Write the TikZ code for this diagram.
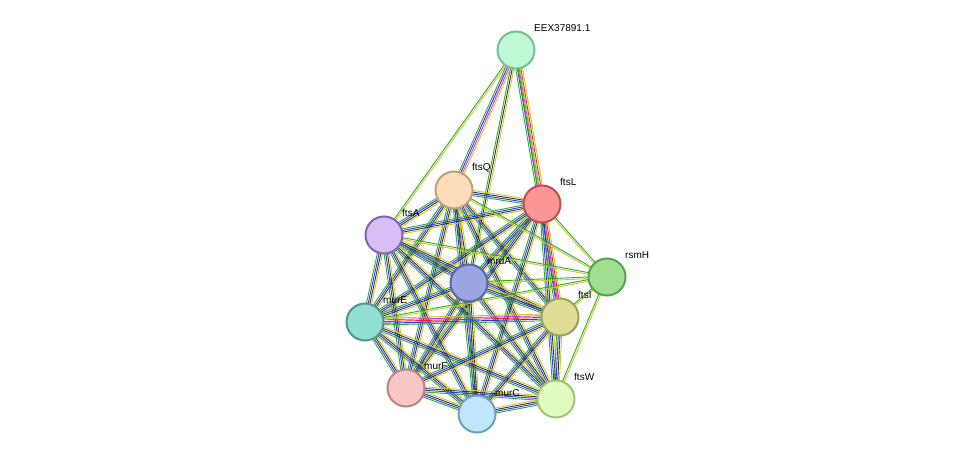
\documentclass[tikz,border=0pt]{standalone}
\usepackage{fontspec}
\setmainfont{Liberation Sans}
\usetikzlibrary{calc,backgrounds}
\definecolor{sg}{HTML}{2EAA2E}
\definecolor{sb}{HTML}{3030EE}
\definecolor{sm}{HTML}{DD33DD}
\definecolor{sr}{HTML}{EE2222}
\definecolor{sy}{HTML}{C8C828}
\definecolor{sk}{HTML}{333333}
\definecolor{sc}{HTML}{40C0D0}
\newcommand\myedge[3]{%
 \gdef\nn{0}%
 \foreach \c in {#3}{\pgfmathtruncatemacro\t{\nn+1}\xdef\nn{\t}}%
 \foreach \c [count=\i] in {#3}{%
  \pgfmathsetmacro\o{(\i-(\nn+1)/2)*1.7}%
  \draw[draw=\c,line width=0.9pt] ($(#1)!\o pt!90:(#2)$) -- ($(#2)!\o pt!-90:(#1)$);}}
\tikzset{prot/.style={circle,minimum size=37pt,inner sep=0pt,line width=2pt},
 lab/.style={anchor=west,font=\fontsize{10}{12}\selectfont,inner sep=1pt}}
\begin{document}
\begin{tikzpicture}[x=1pt,y=-1pt]
\useasboundingbox (0,0) rectangle (976,460);
\node[prot,fill={rgb,255:red,190;green,248;blue,212},draw={rgb,255:red,120;green,190;blue,145}] (X) at (516,50) {};
\node[prot,fill={rgb,255:red,253;green,220;blue,188},draw={rgb,255:red,190;green,160;blue,120}] (Q) at (454,190) {};
\node[prot,fill={rgb,255:red,250;green,150;blue,150},draw={rgb,255:red,190;green,80;blue,80}] (L) at (542,204) {};
\node[prot,fill={rgb,255:red,215;green,190;blue,245},draw={rgb,255:red,130;green,100;blue,180}] (A) at (384,235) {};
\node[prot,fill={rgb,255:red,160;green,222;blue,145},draw={rgb,255:red,90;green,160;blue,80}] (H) at (607,277) {};
\node[prot,fill={rgb,255:red,155;green,165;blue,225},draw={rgb,255:red,90;green,100;blue,170}] (M) at (469,283) {};
\node[prot,fill={rgb,255:red,145;green,222;blue,210},draw={rgb,255:red,80;green,150;blue,140}] (E) at (365,322) {};
\node[prot,fill={rgb,255:red,222;green,222;blue,150},draw={rgb,255:red,160;green,160;blue,90}] (I) at (560,317) {};
\node[prot,fill={rgb,255:red,248;green,198;blue,198},draw={rgb,255:red,190;green,130;blue,130}] (F) at (406,388) {};
\node[prot,fill={rgb,255:red,192;green,230;blue,252},draw={rgb,255:red,110;green,160;blue,190}] (C) at (477,414) {};
\node[prot,fill={rgb,255:red,225;green,252;blue,192},draw={rgb,255:red,160;green,195;blue,120}] (W) at (556,399) {};
\begin{scope}[on background layer]
\myedge{X}{A}{sg,sy}
\myedge{X}{Q}{sg,sb,sm,sy}
\myedge{X}{L}{sg,sb,sm,sr,sy}
\myedge{X}{M}{sg,sk,sy}
\myedge{X}{I}{sg,sy}
\foreach \a/\b in {Q/L,Q/A,Q/M,Q/E,Q/I,Q/F,Q/C,Q/W,L/A,L/M,L/E,L/F,L/C,L/W,A/M,A/E,A/I,A/F,A/C,A/W,M/E,M/I,M/F,M/C,M/W,E/F,E/C,E/W,I/F,I/C,I/W,F/C,F/W,C/W}{\myedge{\a}{\b}{sg,sb,sk,sy}}
\myedge{E}{I}{sg,sb,sr,sm,sy}
\myedge{L}{I}{sg,sb,sm,sr,sy}
\foreach \b in {L,I,W,M,Q,A,E}{\myedge{H}{\b}{sg,sy}}
\end{scope}
\node[lab] (tX) at (533,28) {EEX37891.1};
\node[lab] (tQ) at (471,168) {ftsQ};
\node[lab] (tL) at (559,182) {ftsL};
\node[lab] (tA) at (401,213) {ftsA};
\node[lab] (tH) at (624,255) {rsmH};
\node[lab] (tM) at (486,261) {mrdA};
\node[lab] (tE) at (382,300) {murE};
\node[lab] (tI) at (577,295) {ftsI};
\node[lab] (tF) at (423,366) {murF};
\node[lab] (tC) at (494,393) {murC};
\node[lab] (tW) at (573,377) {ftsW};
\end{tikzpicture}
\end{document}
